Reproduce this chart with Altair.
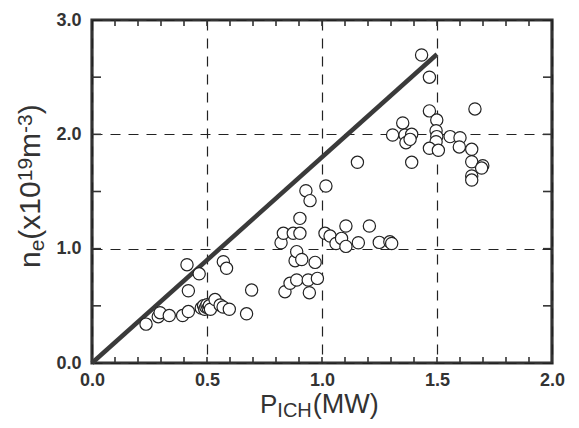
import altair as alt
import pandas as pd

# ---- data ----
x_vals = [0.235, 0.288, 0.296, 0.336, 0.394, 0.419, 0.419, 0.413, 0.466, 0.475,
          0.485, 0.490, 0.495, 0.500, 0.505, 0.510, 0.515, 0.535, 0.557, 0.570,
          0.597, 0.571, 0.585, 0.672, 0.694,
          0.822, 0.832, 0.839, 0.861, 0.875, 0.883, 0.890, 0.890, 0.904, 0.904,
          0.912, 0.930, 0.940, 0.945, 0.948, 0.970, 0.980, 1.017,
          1.013, 1.035, 1.061, 1.085, 1.104, 1.104, 1.154, 1.158, 1.206, 1.249,
          1.295, 1.303,
          1.433, 1.467, 1.467, 1.499, 1.665, 1.351, 1.307, 1.361, 1.390, 1.365,
          1.383, 1.390, 1.496, 1.499, 1.496, 1.467, 1.506, 1.557, 1.600, 1.597,
          1.651, 1.651, 1.699, 1.694, 1.651, 1.651]
y_vals = [0.340, 0.405, 0.440, 0.415, 0.415, 0.450, 0.632, 0.860, 0.780, 0.480,
          0.500, 0.470, 0.490, 0.510, 0.480, 0.500, 0.470, 0.555, 0.507, 0.490,
          0.470, 0.886, 0.828, 0.430, 0.638,
          1.052, 1.134, 0.624, 0.697, 1.134, 0.895, 0.974, 0.726, 1.134, 1.265,
          0.905, 1.507, 0.726, 0.615, 1.420, 0.880, 0.740, 1.548,
          1.134, 1.110, 1.045, 1.090, 1.020, 1.198, 1.755, 1.052, 1.198, 1.055,
          1.060, 1.045,
          2.694, 2.500, 2.205, 2.125, 2.222, 2.100, 1.994, 1.994, 2.000, 1.927,
          1.956, 1.755, 2.032, 1.980, 1.936, 1.878, 1.860, 1.980, 1.970, 1.890,
          1.869, 1.760, 1.725, 1.705, 1.636, 1.600]

line_x = [0.0, 1.5]
line_y = [0.0, 2.7]

x_labels = [0.0, 0.5, 1.0, 1.5, 2.0]
y_labels = [0.0, 1.0, 2.0, 3.0]
x_minor = [0.1, 0.2, 0.3, 0.4, 0.5, 0.6, 0.7, 0.8, 0.9, 1.0,
           1.1, 1.2, 1.3, 1.4, 1.5, 1.6, 1.7, 1.8, 1.9]
y_minor = [0.5, 1.0, 1.5, 2.0, 2.5]

# ---- layout / style ----
W, H = 460, 343
FONT = "Liberation Sans"
INK = "#333333"

xscale = alt.Scale(domain=[0, 2], nice=False, zero=False)
yscale = alt.Scale(domain=[0, 3], nice=False, zero=False)

xaxis = alt.Axis(values=x_labels, format=".1f", grid=True, gridDash=[10, 8],
                 gridColor="#222222", gridWidth=1.2, domain=False, ticks=False,
                 labelFont=FONT, labelFontWeight="bold", labelFontSize=18,
                 labelColor=INK, labelPadding=8, labelFlush=False, title=None)
yaxis = alt.Axis(values=y_labels, format=".1f", grid=True, gridDash=[10, 8],
                 gridColor="#222222", gridWidth=1.2, domain=False, ticks=False,
                 labelFont=FONT, labelFontWeight="bold", labelFontSize=18,
                 labelColor=INK, labelPadding=11, labelFlush=False, title=None)

pts = pd.DataFrame({"p": x_vals, "n": y_vals})
ln = pd.DataFrame({"p": line_x, "n": line_y})
xm = pd.DataFrame({"p": x_minor})
ym = pd.DataFrame({"n": y_minor})

X = lambda: alt.X("p:Q", scale=xscale, axis=xaxis)
Y = lambda: alt.Y("n:Q", scale=yscale, axis=yaxis)

points = alt.Chart(pts).mark_point(
    shape="circle", filled=True, fill="white", stroke="#222222",
    strokeWidth=1.2, size=150, opacity=1
).encode(x=X(), y=Y())

fit = alt.Chart(ln).mark_line(color="#3a3a3a", strokeWidth=4.5).encode(x=X(), y=Y())

tick_style = dict(color=INK, strokeWidth=1.6)
xt_bot = alt.Chart(xm).mark_rule(**tick_style).encode(
    x=X(), y=alt.value(H), y2=alt.value(H - 6))
xt_top = alt.Chart(xm).mark_rule(**tick_style).encode(
    x=X(), y=alt.value(0), y2=alt.value(6))
yt_left = alt.Chart(ym).mark_rule(**tick_style).encode(
    y=Y(), x=alt.value(0), x2=alt.value(9))
yt_right = alt.Chart(ym).mark_rule(**tick_style).encode(
    y=Y(), x=alt.value(W), x2=alt.value(W - 9))

# ---- axis titles built from pieces (sub/superscripts) ----
ADV = {"P": .667, "I": .278, "C": .722, "H": .722, "(": .333, ")": .333,
       "M": .833, "W": .944, "n": .556, "e": .556, "x": .5, "1": .556,
       "0": .556, "9": .556, "m": .833, "-": .333, "3": .556}
one = pd.DataFrame({"a": [0]})


def width(s, size):
    return sum(ADV[c] for c in s) * size


def piece(txt, x, y, size, angle=0):
    return alt.Chart(one).mark_text(
        text=txt, font=FONT, fontSize=size, color=INK, align="left",
        baseline="alphabetic", angle=angle
    ).encode(x=alt.value(x), y=alt.value(y))


title_layers = []
# x title: P_ICH(MW)
cx, base = 168, 393
for txt, size, dy in [("P", 26, 0), ("ICH", 20, 4), ("(MW)", 27, 0)]:
    title_layers.append(piece(txt, cx, base + dy, size))
    cx += width(txt, size) + (1 if txt == "ICH" else 0)

# y title: n_e(x10^19 m^-3), rotated, reading upward
cy, bx = 248, -52
for txt, size, dx in [("n", 30, 0), ("e", 21, 4), ("(x10", 30, 0),
                      ("19", 21, -8), ("m", 30, 0), ("-3", 21, -8), (")", 30, 0)]:
    title_layers.append(piece(txt, bx + dx, cy, size, angle=270))
    cy -= width(txt, size)

chart = alt.layer(
    fit, xt_bot, xt_top, yt_left, yt_right, points, *title_layers
).properties(
    width=W, height=H,
    autosize=alt.AutoSizeParams(type="none"),
    padding={"left": 84, "top": 12, "right": 19, "bottom": 57},
    background="white",
).configure_view(stroke="#333333", strokeWidth=3.2)

chart.save("out.html", embed_options={"renderer": "svg", "actions": False})
